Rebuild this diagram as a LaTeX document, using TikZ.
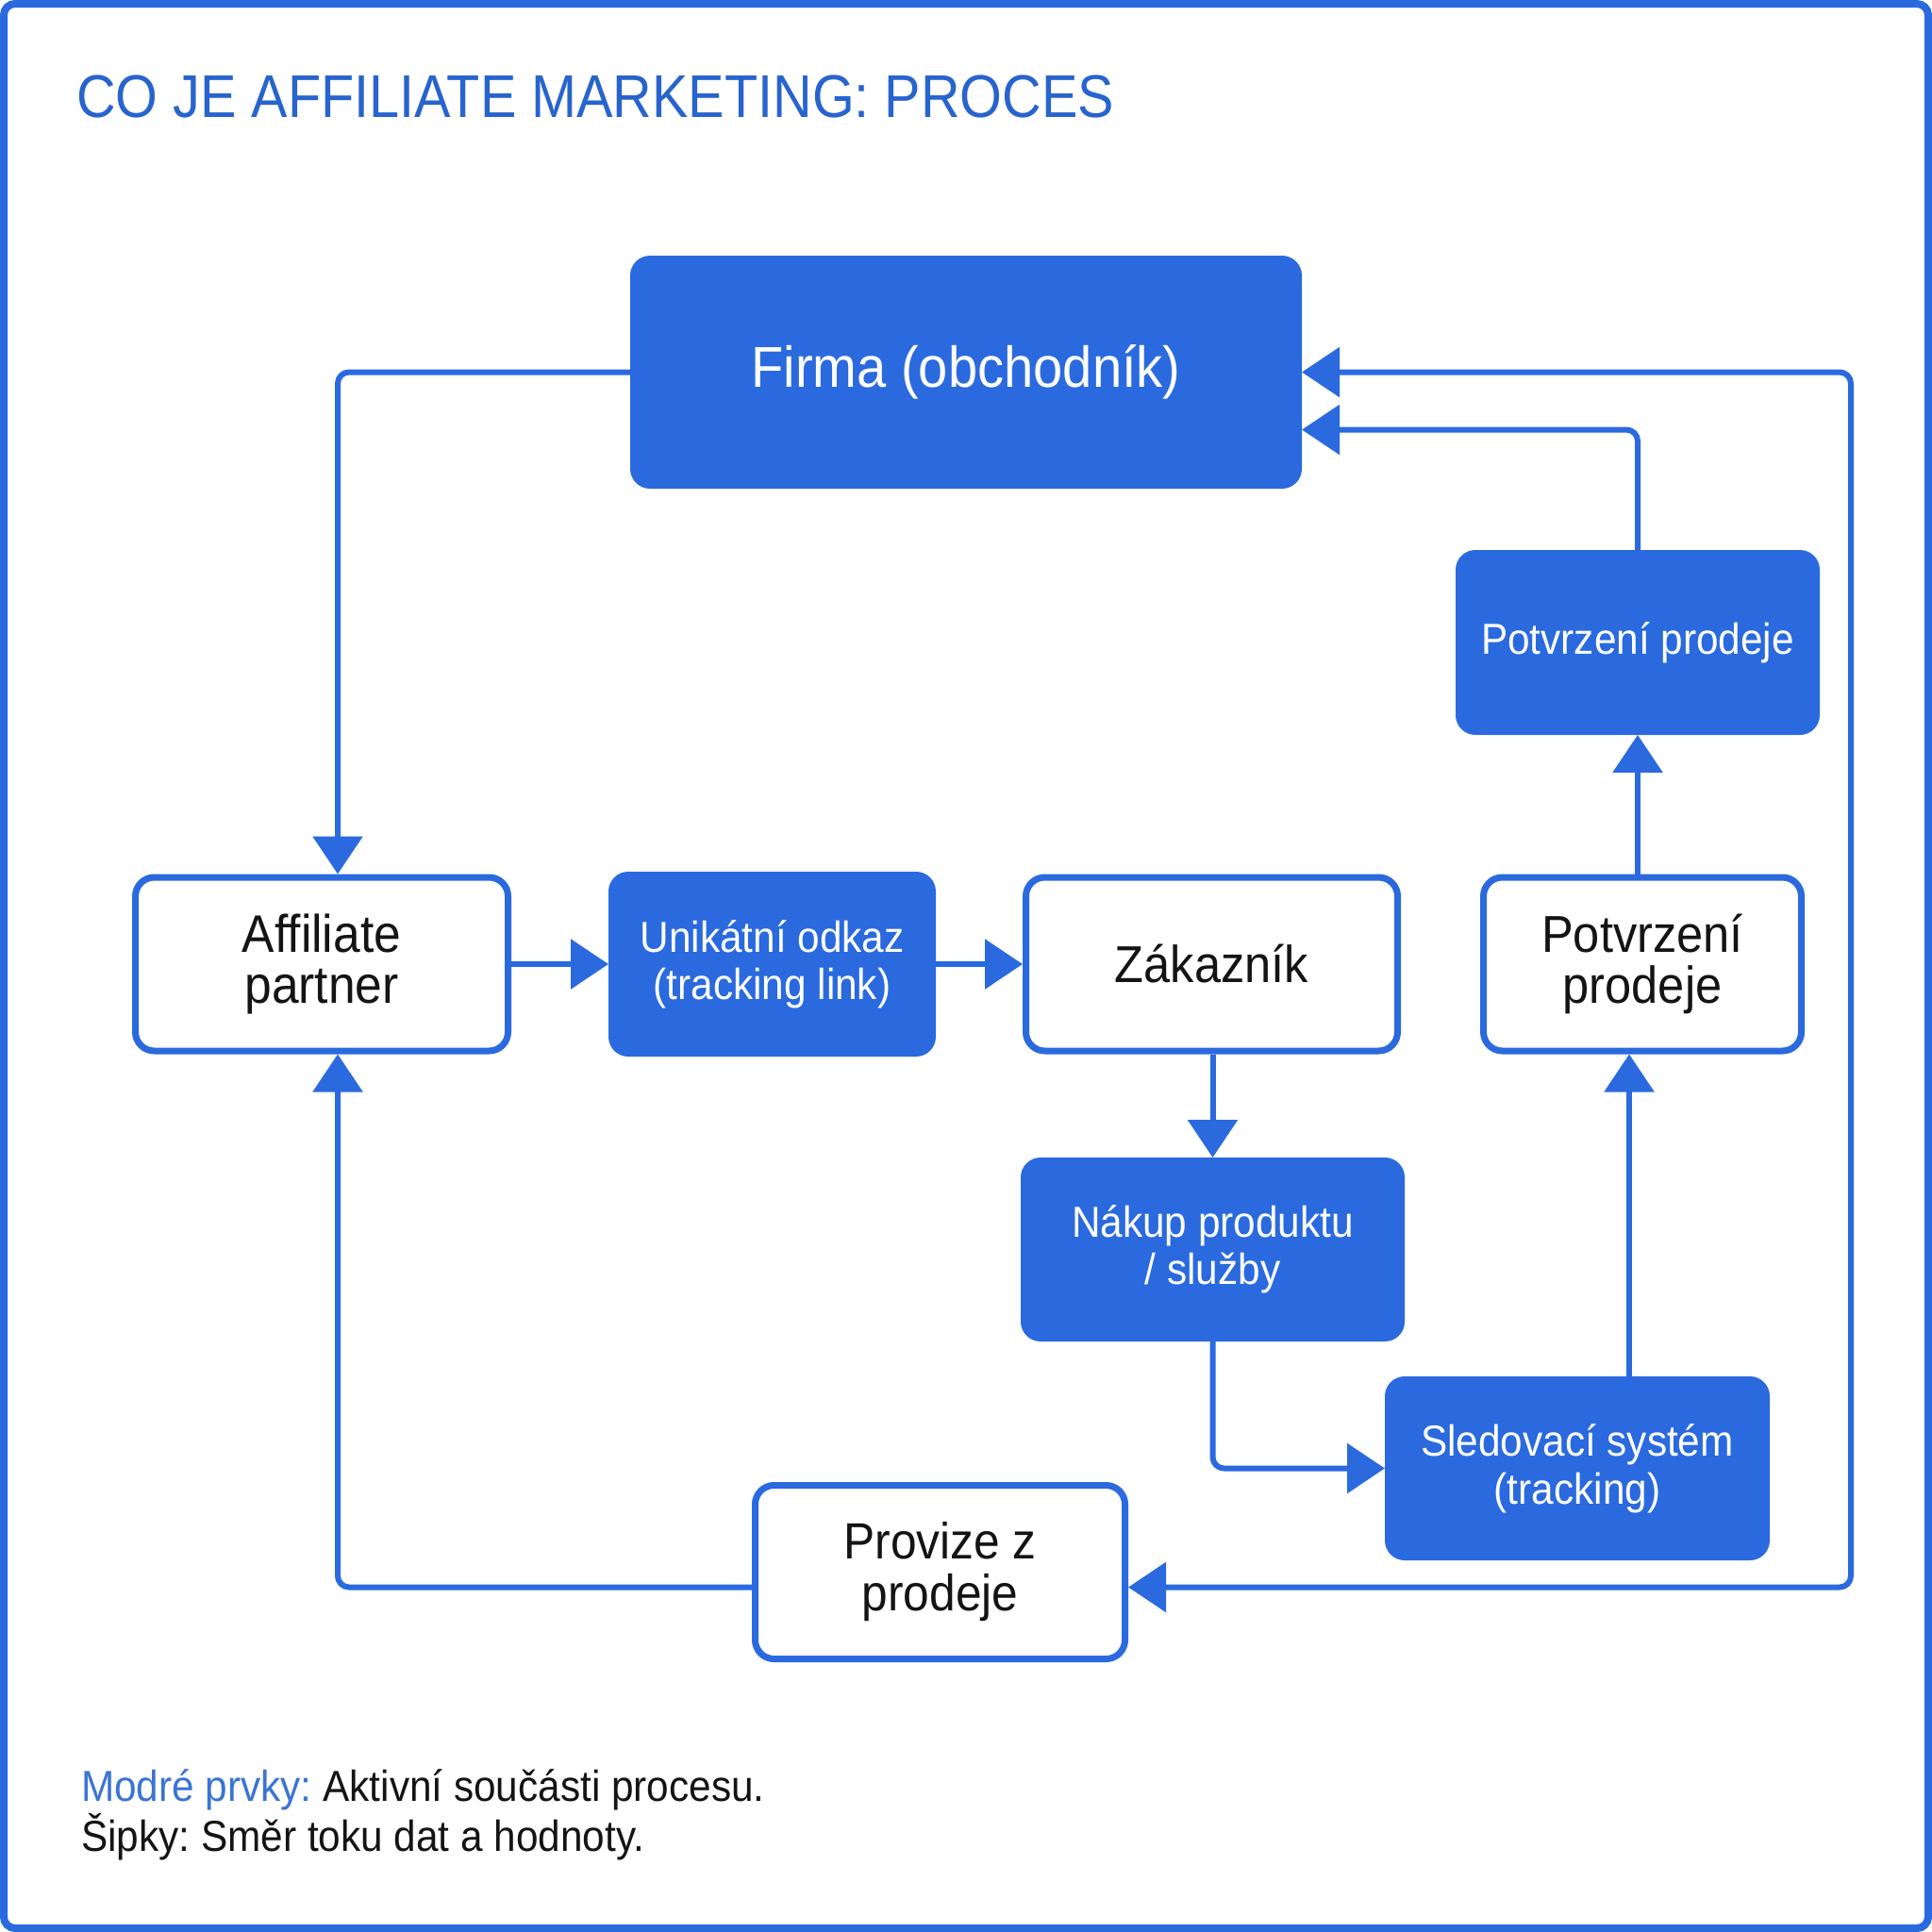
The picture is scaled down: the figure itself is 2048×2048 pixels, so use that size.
\documentclass[tikz,border=0pt]{standalone}
\usepackage{fontspec}
\setmainfont{Liberation Sans}[FakeStretch=0.92]
\newfontfamily\titlefont{Liberation Sans}[FakeStretch=0.9]
\usetikzlibrary{arrows.meta}
\definecolor{mblue}{RGB}{42,106,222}
\definecolor{tblue}{RGB}{40,100,205}
\definecolor{lblue}{RGB}{58,116,212}
\definecolor{ink}{RGB}{20,20,20}
\frenchspacing
\begin{document}
\begin{tikzpicture}[x=1pt,y=-1pt,
  filledbox/.style={fill=mblue, draw=mblue, line width=2pt, rounded corners=20pt, text=white, align=center, inner sep=0pt},
  outlinebox/.style={fill=white, draw=mblue, line width=7pt, rounded corners=20pt, text=ink, align=center, inner sep=0pt},
  conn/.style={draw=mblue, line width=6pt, -{Triangle[length=40pt,width=52pt]}},
  bent/.style={rounded corners=12pt},
  conn2/.style={draw=mblue, line width=6pt, rounded corners=12pt, {Triangle[length=40pt,width=52pt]}-{Triangle[length=40pt,width=52pt]}}
]
\useasboundingbox (0,0) rectangle (2048,2048);
\fill[white] (0,0) rectangle (2048,2048);
\draw[mblue, line width=8pt, rounded corners=12pt] (4,4) rectangle (2044,2044);

\node[anchor=base west, text=tblue, font=\titlefont\fontsize{64pt}{70pt}\selectfont, inner sep=0pt] (title) at (81,124) {CO JE AFFILIATE MARKETING: PROCES};

\node[filledbox, minimum width=710pt, minimum height=245pt, font=\fontsize{61pt}{66pt}\selectfont] (firma) at (1024,394.5) {Firma (obchodník)};
\node[outlinebox, minimum width=395pt, minimum height=184pt, font=\fontsize{56pt}{54pt}\selectfont] (aff) at (341,1022) {Affiliate\\partner};
\node[filledbox, minimum width=345pt, minimum height=194pt, font=\fontsize{46pt}{50pt}\selectfont] (uni) at (818.5,1022) {Unikátní odkaz\\(tracking link)};
\node[outlinebox, minimum width=394pt, minimum height=184pt, font=\fontsize{55pt}{54pt}\selectfont] (zak) at (1284.5,1022) {Zákazník};
\node[outlinebox, minimum width=337pt, minimum height=184pt, font=\fontsize{55pt}{54pt}\selectfont] (pw) at (1741,1022) {Potvrzení\\prodeje};
\node[filledbox, minimum width=384pt, minimum height=194pt, font=\fontsize{46pt}{50pt}\selectfont] (pf) at (1736,681) {Potvrzení prodeje};
\node[filledbox, minimum width=405pt, minimum height=193pt, font=\fontsize{46pt}{50pt}\selectfont] (nak) at (1285.5,1324.5) {Nákup produktu\\/ služby};
\node[filledbox, minimum width=406pt, minimum height=193pt, font=\fontsize{46pt}{51pt}\selectfont] (sled) at (1672,1556.5) {Sledovací systém\\(tracking)};
\node[outlinebox, minimum width=392pt, minimum height=184pt, font=\fontsize{54pt}{55pt}\selectfont] (prov) at (996.5,1666.5) {Provize z\\prodeje};

\coordinate (lx) at (358,1000);
\coordinate (rx) at (1962,1000);

\draw[conn, bent] (firma.west) -| (aff.north -| lx);
\draw[conn, bent] ([yshift=-16pt]prov.west) -| (aff.south -| lx);
\draw[conn] (aff.east) -- (aff.east -| uni.west);
\draw[conn] (uni.east) -- (uni.east -| zak.west);
\draw[conn] (zak.south -| nak.north) -- (nak.north);
\draw[conn, bent] (nak.south) |- (sled.west);
\draw[conn] ([xshift=-14pt]sled.north -| pw.south) -- ([xshift=-14pt]pw.south);
\draw[conn] (pw.north -| pf.south) -- (pf.south);
\draw[conn, bent] (pf.north) |- ([yshift=-61pt]firma.east);
\draw[conn2] ([yshift=-16pt]prov.east) -| (rx) |- (firma.east);

\node[anchor=base west, font=\fontsize{46pt}{53pt}\selectfont, text=ink, inner sep=0pt] (leg1) at (86,1909) {\textcolor{lblue}{Modré prvky:} Aktivní součásti procesu.};
\node[anchor=base west, font=\fontsize{46pt}{53pt}\selectfont, text=ink, inner sep=0pt] (leg2) at (86,1962) {Šipky: Směr toku dat a hodnoty.};
\end{tikzpicture}
\end{document}
